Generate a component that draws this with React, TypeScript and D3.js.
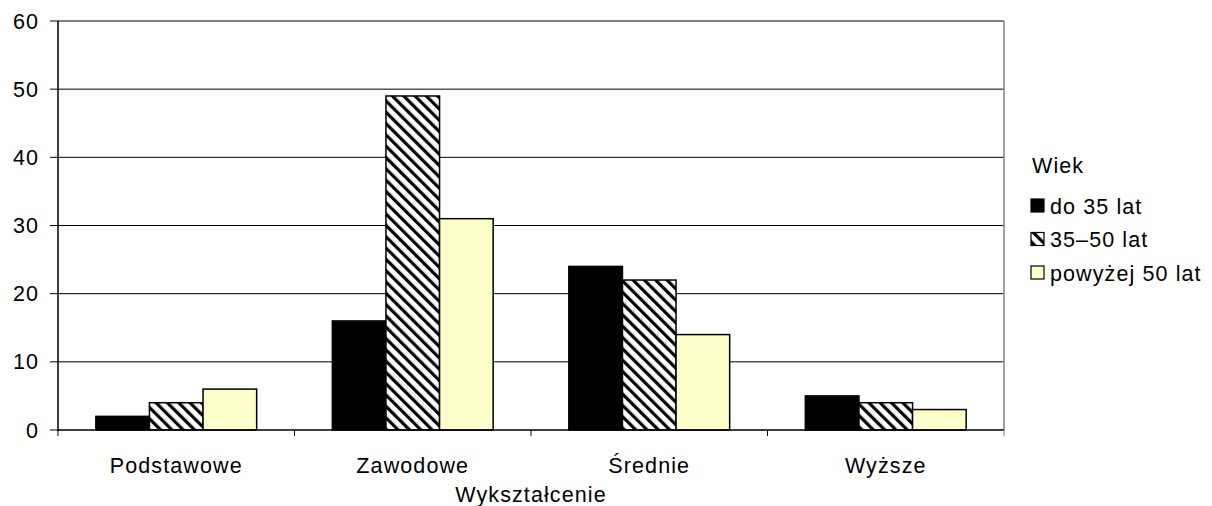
import * as d3 from 'd3'

const categories = ['Podstawowe', 'Zawodowe', 'Średnie', 'Wyższe']
const seriesNames = ['do 35 lat', '35–50 lat', 'powyżej 50 lat']
const young = [2, 16, 24, 5]
const middle = [4, 49, 22, 4]
const older = [6, 31, 14, 3]
const yTicks = [0, 10, 20, 30, 40, 50, 60]

const W = 1212
const H = 506
const left = 58
const right = 1004
const top = 21
const bottom = 430
const font = "'Liberation Sans', Arial, sans-serif"
const fs = 21.5
const ls = 1.1

const App = () => {
  const series = [young, middle, older]
  const fills = ['#000000', 'url(#hatch)', '#ffffcc']

  const x = d3.scaleBand().domain(categories).range([left, right]).paddingInner(0.32).paddingOuter(0.16)
  const xs = d3.scaleBand().domain(seriesNames).range([0, x.bandwidth()])
  const cat = d3.scaleBand().domain(categories).range([left, right])
  const y = d3.scaleLinear().domain([0, 60]).range([bottom, top])

  return (
    <svg width={W} height={H} style={{ position: 'absolute', left: 0, top: 0, fontFamily: font }}>
      <defs>
        <pattern id='hatch' width={8} height={8} patternUnits='userSpaceOnUse' patternTransform='rotate(-45)'>
          <rect width={8} height={8} fill='#fff' />
          <rect x={0} y={0} width={3.2} height={8} fill='#000' />
        </pattern>
      </defs>
      <rect width={W} height={H} fill='#fff' />
      {yTicks.map((t) => (
        <g key={t}>
          {t > 0 && <line x1={left} x2={right} y1={y(t)} y2={y(t)} stroke='#000' strokeWidth={1} />}
          <line x1={left - 8} x2={left} y1={y(t)} y2={y(t)} stroke='#000' />
          <text x={39} y={y(t)} dy='0.35em' textAnchor='end' fontSize={fs} letterSpacing={ls}>
            {t}
          </text>
        </g>
      ))}
      <line x1={right} x2={right} y1={top} y2={bottom} stroke='#808080' strokeWidth={1.5} />
      {series.map((vals, si) =>
        vals.map((v, ci) => (
          <rect
            key={`${si}-${ci}`}
            x={(x(categories[ci]) ?? 0) + (xs(seriesNames[si]) ?? 0)}
            y={y(v)}
            width={xs.bandwidth()}
            height={bottom - y(v)}
            fill={fills[si]}
            stroke='#000'
            strokeWidth={1.5}
          />
        ))
      )}
      <line x1={left} x2={left} y1={top} y2={bottom + 1} stroke='#000' strokeWidth={1.5} />
      <line x1={left} x2={right} y1={bottom} y2={bottom} stroke='#000' strokeWidth={1.5} />
      {[...categories.map((c) => cat(c) ?? 0), right].map((p, i) => (
        <line key={i} x1={p} x2={p} y1={bottom} y2={bottom + 6} stroke={i === 4 ? '#808080' : '#000'} />
      ))}
      {categories.map((c) => (
        <text key={c} x={(cat(c) ?? 0) + cat.bandwidth() / 2} y={473} textAnchor='middle' fontSize={fs} letterSpacing={ls}>
          {c}
        </text>
      ))}
      <text x={(left + right) / 2} y={502} textAnchor='middle' fontSize={fs} letterSpacing={ls}>
        Wykształcenie
      </text>
      <text x={1032} y={173} fontSize={fs} letterSpacing={ls}>
        Wiek
      </text>
      {seriesNames.map((s, i) => (
        <g key={s} transform={`translate(1031, ${199 + i * 33.5})`}>
          <rect x={0} y={0} width={13} height={13} fill={fills[i]} stroke='#000' strokeWidth={1.2} />
          <text x={19} y={7} dy='0.35em' fontSize={fs} letterSpacing={ls}>
            {s}
          </text>
        </g>
      ))}
    </svg>
  )
}

export default App
